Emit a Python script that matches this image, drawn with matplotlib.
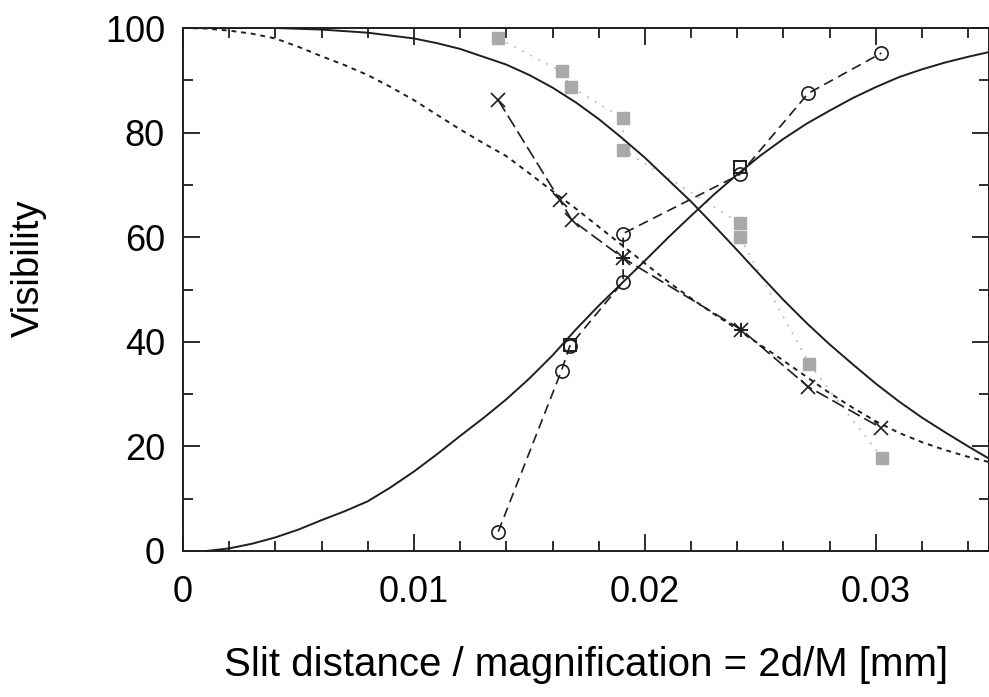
import matplotlib
matplotlib.use("Agg")
import matplotlib.pyplot as plt
from matplotlib.ticker import MultipleLocator, FixedLocator

# ---- data ----
# fitted curves
fit_dec_x = [0.0, 0.002, 0.004, 0.006, 0.008, 0.010, 0.011, 0.012, 0.013, 0.014,
             0.015, 0.016, 0.017, 0.018, 0.019, 0.020, 0.021, 0.022, 0.023, 0.024,
             0.025, 0.026, 0.027, 0.028, 0.029, 0.030, 0.031, 0.032, 0.033, 0.034, 0.035]
fit_dec_v = [100.0, 100.0, 100.0, 99.7, 99.1, 98.0, 97.1, 96.0, 94.5, 93.0,
             91.0, 88.6, 85.8, 82.6, 79.0, 75.2, 71.0, 66.8, 62.2, 57.5,
             52.7, 48.0, 43.6, 39.5, 35.7, 32.0, 28.6, 25.5, 22.7, 20.0, 17.4]

dash_dec_x = [0.0, 0.001, 0.002, 0.003, 0.004, 0.005, 0.006, 0.007, 0.008, 0.009,
              0.010, 0.011, 0.012, 0.013, 0.014, 0.015, 0.016, 0.017, 0.018, 0.019,
              0.020, 0.021, 0.022, 0.023, 0.024, 0.025, 0.026, 0.027, 0.028, 0.029,
              0.030, 0.031, 0.032, 0.033, 0.034, 0.035]
dash_dec_v = [100.0, 99.9, 99.5, 98.9, 98.0, 96.4, 94.6, 92.9, 91.0, 88.7,
              86.2, 83.4, 80.6, 78.0, 75.5, 72.2, 68.8, 65.5, 62.0, 58.5,
              55.0, 51.5, 48.3, 45.3, 42.4, 39.4, 36.4, 33.3, 30.2, 27.4,
              24.8, 22.6, 20.8, 19.3, 18.0, 16.9]

fit_inc_x = [0.001, 0.002, 0.003, 0.004, 0.005, 0.006, 0.007, 0.008, 0.009, 0.010,
             0.011, 0.012, 0.013, 0.014, 0.015, 0.016, 0.017, 0.018, 0.019, 0.020,
             0.021, 0.022, 0.023, 0.024, 0.025, 0.026, 0.027, 0.028, 0.029, 0.030,
             0.031, 0.032, 0.033, 0.034, 0.035]
fit_inc_v = [0.0, 0.5, 1.4, 2.6, 4.1, 5.9, 7.6, 9.5, 12.2, 15.2,
             18.5, 22.0, 25.4, 29.0, 33.0, 37.4, 42.3, 46.9, 51.2, 55.5,
             59.9, 64.1, 68.2, 72.0, 75.6, 78.8, 81.7, 84.2, 86.6, 88.7,
             90.6, 92.1, 93.4, 94.5, 95.5]

# measured series
circ_x = [0.01365, 0.01639, 0.01675, 0.01906, 0.01906, 0.02411, 0.02707, 0.03024]
circ_v = [3.7, 34.5, 39.2, 51.5, 60.7, 72.0, 87.5, 95.2]

sq_x = [0.01675, 0.02411]
sq_v = [39.4, 73.4]

cross_x = [0.01365, 0.01632, 0.01683, 0.01906, 0.02418, 0.02707, 0.03024]
cross_v = [86.2, 67.1, 63.3, 56.0, 42.3, 31.4, 23.5]

plus_x = [0.01906, 0.02418]
plus_v = [56.0, 42.3]

gray_x = [0.01365, 0.01639, 0.01678, 0.01906, 0.01906, 0.02411, 0.02411, 0.02711, 0.03027]
gray_v = [98.0, 91.7, 88.8, 82.7, 76.7, 62.7, 60.0, 35.8, 17.8]

xticks = [0.0, 0.01, 0.02, 0.03]
xtick_labels = ["0", "0.01", "0.02", "0.03"]
yticks = [0, 20, 40, 60, 80, 100]

plt.rcParams['font.family'] = ['Liberation Sans', 'DejaVu Sans']

fig = plt.figure(figsize=(9.89, 6.97), dpi=100)
ax = fig.add_axes([183 / 989, 1 - 551 / 697, 1 - 183 / 989, 523 / 697])

k = '#1e1e1e'
lw = 1.4
ax.plot(gray_x, gray_v, linestyle=(0, (1, 4)), color='#bdbdbd', lw=1.3,
        marker='s', ms=9, mfc='#a9a9a9', mec='#a9a9a9', zorder=2)
ax.plot(fit_dec_x, fit_dec_v, '-', color=k, lw=lw, zorder=3)
ax.plot(dash_dec_x, dash_dec_v, linestyle=(0, (2.5, 2.5)), color=k, lw=lw, zorder=3)
ax.plot(fit_inc_x, fit_inc_v, '-', color=k, lw=lw, zorder=3)
ax.plot(circ_x, circ_v, linestyle=(0, (6, 3.5)), color=k, lw=1.2,
        marker='o', ms=9.5, mfc='none', mec=k, mew=1.2, zorder=4)
ax.plot(sq_x, sq_v, linestyle='none', marker='s', ms=8, mfc='none', mec=k, mew=1.4, zorder=4)
ax.plot(cross_x, cross_v, linestyle=(0, (8, 3)), color=k, lw=1.2,
        marker='x', ms=10, mec=k, mew=1.2, zorder=4)
ax.plot(plus_x, plus_v, linestyle='none', marker='+', ms=10, mec=k, mew=1.4, zorder=4)

ax.set_xlim(0, 0.0349)
ax.set_ylim(0, 100)
ax.xaxis.set_major_locator(FixedLocator(xticks))
ax.set_xticklabels(xtick_labels)
ax.xaxis.set_minor_locator(MultipleLocator(0.002))
ax.yaxis.set_major_locator(FixedLocator(yticks))
ax.yaxis.set_minor_locator(MultipleLocator(10))

ax.tick_params(which='both', direction='in', top=True, right=True, color=k, width=1.3)
ax.tick_params(which='major', length=12, labelsize=26)
ax.tick_params(which='minor', length=7)
ax.tick_params(axis='y', pad=13)
ax.tick_params(axis='x', pad=17)
for s in ax.spines.values():
    s.set_color(k)
    s.set_linewidth(1.4)

ax.set_xlabel("Slit distance / magnification = 2d/M [mm]", fontsize=29, labelpad=26)
ax.set_ylabel("Visibility", fontsize=27.5)
ax.yaxis.set_label_coords(-0.169, 0.54)

fig.savefig("out.png", dpi=100)
